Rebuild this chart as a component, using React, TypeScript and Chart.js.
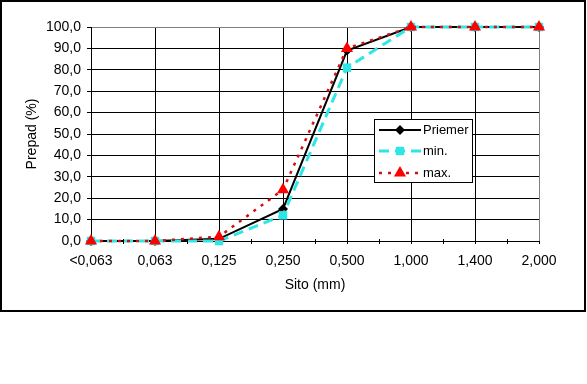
import React, { useEffect, useRef } from "react";
import { Chart, registerables } from "chart.js";

Chart.register(...registerables);

const categories = ["<0,063", "0,063", "0,125", "0,250", "0,500", "1,000", "1,400", "2,000"];
const priemerValues = [0, 0, 1, 15, 89, 100, 100, 100];
const minValues = [0, 0, 0, 12, 81, 100, 100, 100];
const maxValues = [0, 0, 2, 24, 90, 100, 100, 100];
const seriesLabels = ["Priemer", "min.", "max."];
const yTitle = "Prepad (%)";
const xTitle = "Sito (mm)";

const FONT = "'Liberation Sans', Arial, sans-serif";
const CYAN = "#2EE6E6";
const RED = "#FF0000";
const DARKRED = "#D01010";

const framePlugin = {
  id: "frame",
  beforeDraw(chart: any) {
    const { ctx, width, height } = chart;
    ctx.save();
    ctx.fillStyle = "#fff";
    ctx.fillRect(0, 0, width, height);
    ctx.strokeStyle = "#000";
    ctx.lineWidth = 2;
    ctx.strokeRect(1, 1, 584, 310);
    ctx.restore();
  },
};

const minorTickPlugin = {
  id: "minorTicks",
  afterDraw(chart: any) {
    const { ctx } = chart;
    const x = chart.scales.x;
    const bottom = chart.chartArea.bottom;
    ctx.save();
    ctx.strokeStyle = "#000";
    ctx.lineWidth = 1;
    for (let i = 0; i < categories.length - 1; i++) {
      const px = Math.round((x.getPixelForTick(i) + x.getPixelForTick(i + 1)) / 2) + 0.5;
      ctx.beginPath();
      ctx.moveTo(px, bottom - 2);
      ctx.lineTo(px, bottom + 3);
      ctx.stroke();
    }
    ctx.restore();
  },
};

const legendPlugin = {
  id: "customLegend",
  afterDraw(chart: any) {
    const { ctx } = chart;
    const bx = 374.5, by = 119.5, bw = 98, bh = 63;
    ctx.save();
    ctx.fillStyle = "#fff";
    ctx.fillRect(bx, by, bw, bh);
    ctx.strokeStyle = "#000";
    ctx.lineWidth = 1;
    ctx.strokeRect(bx, by, bw, bh);
    const ds = chart.data.datasets;
    const rows = [130, 151, 173];
    ds.forEach((d: any, i: number) => {
      const y = rows[i];
      ctx.save();
      ctx.strokeStyle = d.borderColor;
      ctx.lineWidth = d.borderWidth;
      ctx.setLineDash(d.borderDash || []);
      ctx.beginPath();
      ctx.moveTo(379, y);
      ctx.lineTo(421, y);
      ctx.stroke();
      ctx.restore();
      ctx.save();
      ctx.fillStyle = d.pointBackgroundColor;
      const cx = 400;
      const r = d.pointRadius;
      ctx.beginPath();
      if (d.pointStyle === "rectRot") {
        ctx.moveTo(cx, y - r);
        ctx.lineTo(cx + r, y);
        ctx.lineTo(cx, y + r);
        ctx.lineTo(cx - r, y);
      } else if (d.pointStyle === "rect") {
        ctx.rect(cx - r * 0.7, y - r * 0.7, r * 1.4, r * 1.4);
      } else {
        ctx.moveTo(cx, y - r);
        ctx.lineTo(cx + r * 0.87, y + r * 0.5);
        ctx.lineTo(cx - r * 0.87, y + r * 0.5);
      }
      ctx.closePath();
      ctx.fill();
      ctx.restore();
      ctx.fillStyle = "#000";
      ctx.font = `13px ${FONT}`;
      ctx.textBaseline = "middle";
      ctx.textAlign = "left";
      ctx.fillText(d.label, 423, y);
    });
    ctx.restore();
  },
};

export default function App() {
  const ref = useRef<HTMLCanvasElement>(null);
  useEffect(() => {
    document.body.style.margin = "0";
    if (!ref.current) return;
    const chart = new Chart(ref.current, {
      type: "line",
      data: {
        labels: categories,
        datasets: [
          {
            label: seriesLabels[0],
            data: priemerValues,
            borderColor: "#000",
            backgroundColor: "#000",
            borderWidth: 2,
            pointStyle: "rectRot",
            pointRadius: 5,
            pointBackgroundColor: "#000",
            pointBorderColor: "#000",
            pointBorderWidth: 0,
            clip: false,
            order: 3,
          },
          {
            label: seriesLabels[1],
            data: minValues,
            borderColor: CYAN,
            backgroundColor: CYAN,
            borderWidth: 3,
            borderDash: [10, 6],
            pointStyle: "rect",
            pointRadius: 6,
            pointBackgroundColor: CYAN,
            pointBorderColor: CYAN,
            pointBorderWidth: 0,
            clip: false,
            order: 2,
          },
          {
            label: seriesLabels[2],
            data: maxValues,
            borderColor: DARKRED,
            backgroundColor: RED,
            borderWidth: 2.5,
            borderDash: [3, 6],
            pointStyle: "triangle",
            pointRadius: 7,
            pointBackgroundColor: RED,
            pointBorderColor: RED,
            pointBorderWidth: 0,
            clip: false,
            order: 1,
          },
        ],
      },
      options: {
        animation: false,
        responsive: false,
        maintainAspectRatio: false,
        layout: { padding: { left: 0, top: 27, right: 48, bottom: 73 } },
        plugins: { legend: { display: false }, tooltip: { enabled: false } },
        elements: { line: { tension: 0 } },
        scales: {
          x: {
            type: "category",
            offset: false,
            afterFit: (s: any) => { s.height = 70; },
            grid: {
              color: (c: any) => (c.index === categories.length - 1 ? "#808080" : "#000"),
              tickColor: "#000",
              tickLength: 3,
              lineWidth: 1,
            },
            border: { display: true, color: "#000", width: 1 },
            ticks: {
              color: "#000",
              padding: 9,
              maxRotation: 0,
              autoSkip: false,
              font: { family: FONT, size: 14, lineHeight: 1.2 },
            },
            title: {
              display: true,
              text: xTitle,
              color: "#000",
              padding: { top: 0, bottom: 17 },
              font: { family: FONT, size: 14, lineHeight: 1.2 },
            },
          },
          y: {
            min: 0,
            max: 100,
            afterFit: (s: any) => { s.width = 91; },
            grid: {
              color: (c: any) => (c.tick && c.tick.value === 100 ? "#808080" : "#000"),
              tickColor: "#000",
              tickLength: 4,
              lineWidth: 1,
            },
            border: { display: true, color: "#000", width: 1 },
            ticks: {
              stepSize: 10,
              color: "#000",
              padding: 6,
              font: { family: FONT, size: 14, lineHeight: 1.2 },
              callback: (v: any) => Number(v).toFixed(1).replace(".", ","),
            },
            title: {
              display: true,
              text: yTitle,
              color: "#000",
              padding: { top: 24, bottom: 0 },
              font: { family: FONT, size: 14, lineHeight: 1.2 },
            },
          },
        },
      },
      plugins: [framePlugin, minorTickPlugin, legendPlugin],
    } as any);
    return () => chart.destroy();
  }, []);
  return <canvas ref={ref} width={587} height={384} style={{ display: "block" }} />;
}
